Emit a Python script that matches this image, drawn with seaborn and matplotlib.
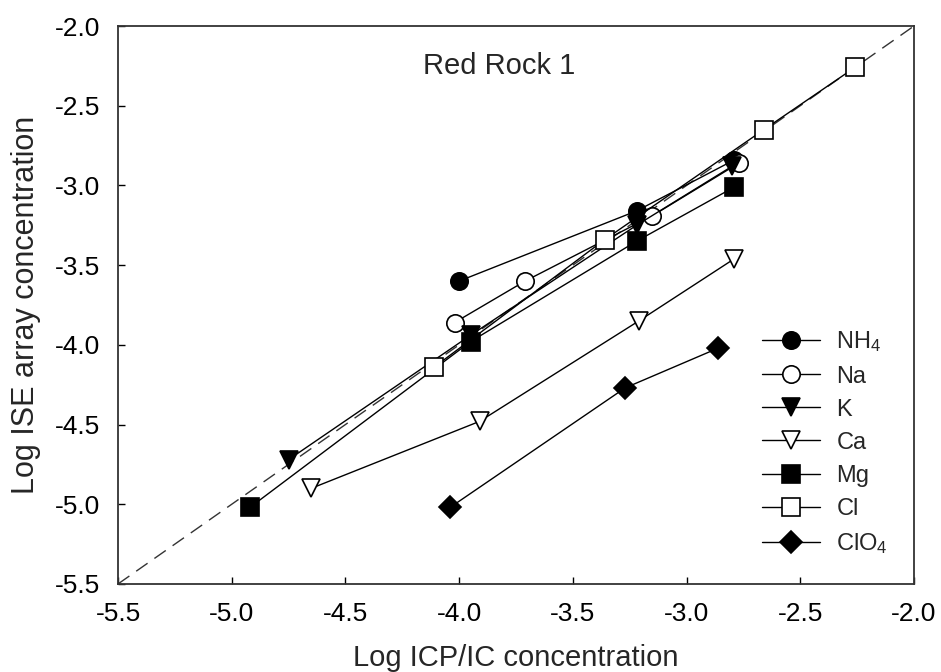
import matplotlib
matplotlib.use("Agg")
import matplotlib.pyplot as plt
import seaborn as sns
import pandas as pd

sns.set_theme(style="white")
plt.rcParams['font.family'] = ['Liberation Sans', 'DejaVu Sans']
plt.rcParams['mathtext.fontset'] = 'custom'
plt.rcParams['mathtext.rm'] = 'Liberation Sans'
plt.rcParams['mathtext.it'] = 'Liberation Sans:italic'

# values (log ICP/IC vs log ISE array)
nh4_x = [-4.00, -3.22, -2.79]
nh4_y = [-3.60, -3.16, -2.84]
na_x = [-4.02, -3.71, -3.15, -2.77]
na_y = [-3.86, -3.60, -3.19, -2.86]
k_x = [-4.75, -3.95, -3.22, -2.80]
k_y = [-4.72, -3.94, -3.25, -2.88]
ca_x = [-4.65, -3.91, -3.21, -2.79]
ca_y = [-4.90, -4.48, -3.85, -3.46]
mg_x = [-4.92, -3.95, -3.22, -2.79]
mg_y = [-5.02, -3.98, -3.35, -3.01]
cl_x = [-4.11, -3.36, -2.66, -2.26]
cl_y = [-4.14, -3.34, -2.65, -2.26]
clo4_x = [-4.04, -3.27, -2.86]
clo4_y = [-5.02, -4.27, -4.02]

one_to_one = [-5.5, -2.0]
ticks = [-5.5, -5.0, -4.5, -4.0, -3.5, -3.0, -2.5, -2.0]

series = [
    ('NH$_4$', nh4_x, nh4_y, 'o', 'black'),
    ('Na', na_x, na_y, 'o', 'white'),
    ('K', k_x, k_y, 'v', 'black'),
    ('Ca', ca_x, ca_y, 'v', 'white'),
    ('Mg', mg_x, mg_y, 's', 'black'),
    ('Cl', cl_x, cl_y, 's', 'white'),
    ('ClO$_4$', clo4_x, clo4_y, 'D', 'black'),
]

fig = plt.figure(figsize=(9.41, 6.72), dpi=100)
ax = fig.add_axes([0.1254, 0.131, 0.8459, 0.8303])

# 1:1 reference line
sns.lineplot(x=one_to_one, y=one_to_one, ax=ax, color='#333333', lw=1.0,
             linestyle=(0, (10, 6)), legend=False)

handles = []
for name, xs, ys, mk, fc in series:
    df = pd.DataFrame({'x': xs, 'y': ys})
    ms = 11 if mk == 'D' else 12.5
    sns.lineplot(data=df, x='x', y='y', ax=ax, color='black', lw=1.0,
                 marker=mk, markersize=ms, markerfacecolor=fc,
                 markeredgecolor='black', markeredgewidth=1.2,
                 estimator=None, sort=False, legend=False)
    handles.append(ax.lines[-1])

ax.set_xlim(-5.5, -2.0)
ax.set_ylim(-5.5, -2.0)
ax.set_xticks(ticks)
ax.set_yticks(ticks)
ax.set_xticklabels([f"{t:.1f}" for t in ticks])
ax.set_yticklabels([f"{t:.1f}" for t in ticks])
ax.tick_params(direction='in', length=5, width=1, colors='black',
               labelsize=19, pad=13, bottom=True, left=True)
for sp in ax.spines.values():
    sp.set_color('#333333')
    sp.set_linewidth(1.3)

ax.set_xlabel('Log ICP/IC concentration', fontsize=21)
ax.set_ylabel('Log ISE array concentration', fontsize=22)
ax.xaxis.set_label_coords(0.5, -0.108)
ax.yaxis.set_label_coords(-0.097, 0.5)

ax.text(-4.16, -2.30, 'Red Rock 1', fontsize=21, ha='left', va='baseline')

ax.legend(handles, [s[0] for s in series], loc='upper left',
          bbox_to_anchor=(0.809, 0.456), frameon=False, fontsize=17,
          handlelength=2.45, handletextpad=0.7, labelspacing=0.47,
          borderaxespad=0, borderpad=0)

fig.savefig('out.png', dpi=100)
